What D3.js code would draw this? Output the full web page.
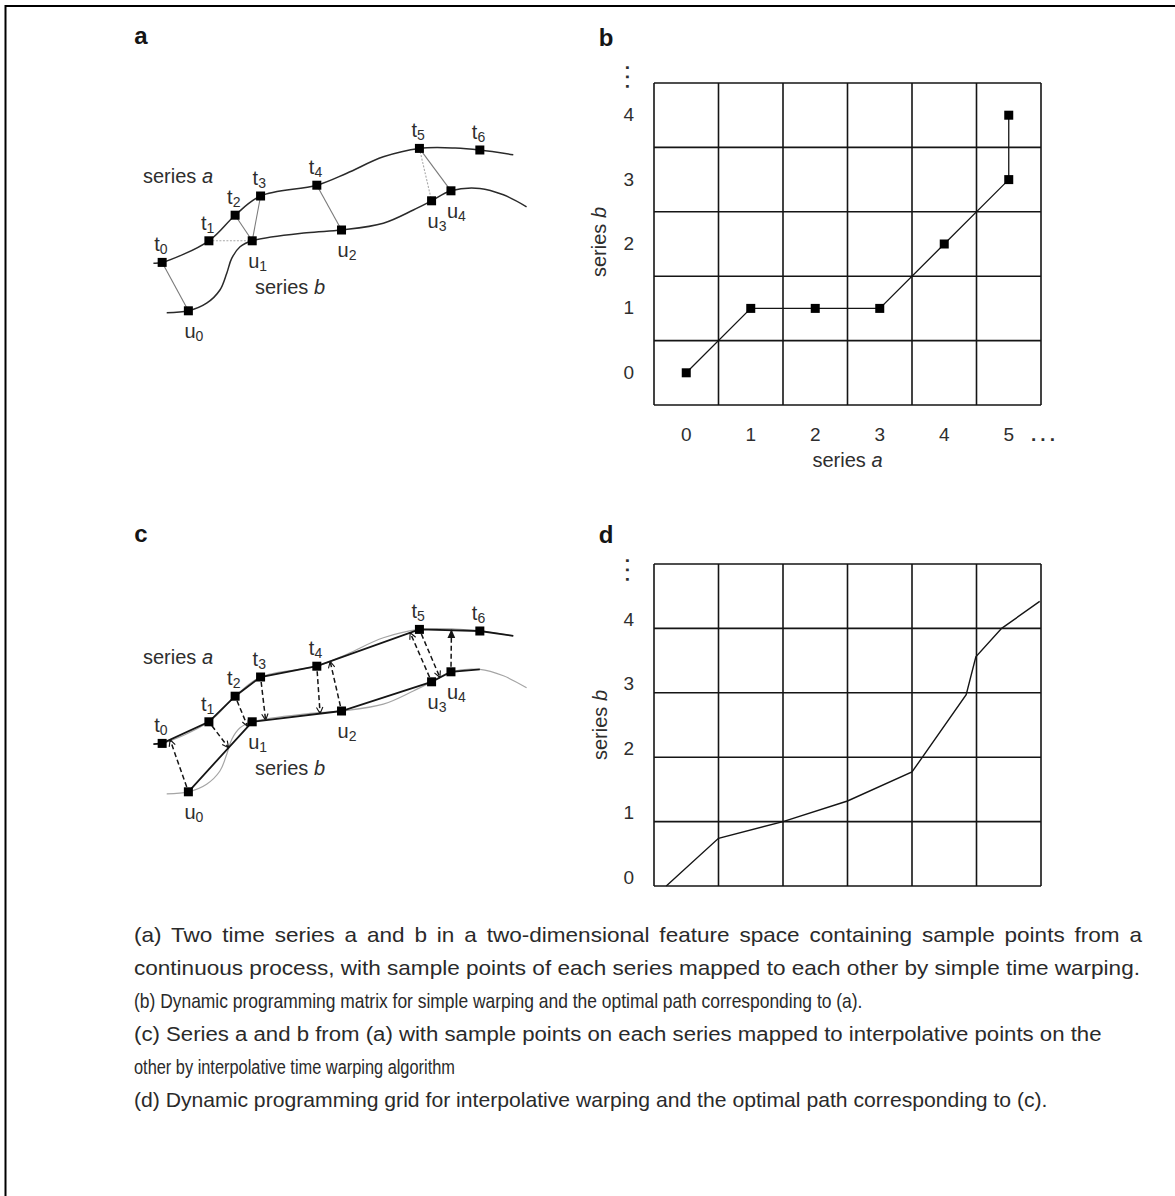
<!DOCTYPE html>
<html>
<head>
<meta charset="utf-8">
<script src="https://cdn.jsdelivr.net/npm/d3@7"></script>
<style>
  html, body { margin: 0; padding: 0; background: #fff; }
  svg { display: block; font-family: "Liberation Sans", Arial, Helvetica, sans-serif; }
</style>
</head>
<body>
<svg id="fig" width="1175" height="1196"></svg>
<script>
// ---------- data ----------
// sample points of series a (t0..t6) in a 2-D feature space (f1, f2)
const aNames = ["0", "1", "2", "3", "4", "5", "6"];
const aF1 = [0.32, 1.55, 2.24, 2.91, 4.39, 7.09, 8.68];
const aF2 = [1.69, 2.23, 2.87, 3.35, 3.62, 4.54, 4.50];
// sample points of series b (u0..u4)
const bNames = ["0", "1", "2", "3", "4"];
const bF1 = [1.01, 2.69, 5.04, 7.41, 7.92];
const bF2 = [0.48, 2.23, 2.50, 3.23, 3.48];
// the continuous processes the samples were taken from
const curveAF1 = [0.09, 0.32, 1.55, 2.24, 2.91, 4.39, 5.18, 6.14, 7.09, 8.03, 8.68, 9.56];
const curveAF2 = [1.67, 1.69, 2.23, 2.87, 3.35, 3.62, 3.92, 4.33, 4.54, 4.55, 4.50, 4.38];
const curveBF1 = [0.44, 1.01, 1.49, 1.84, 2.02, 2.15, 2.37, 2.69, 4.12, 5.04, 6.14, 6.93, 7.41, 7.92, 8.68, 9.30, 9.91];
const curveBF2 = [0.43, 0.48, 0.67, 1.00, 1.42, 1.79, 2.08, 2.23, 2.43, 2.50, 2.67, 3.00, 3.23, 3.48, 3.54, 3.38, 3.08];

// optimal simple-warping path: pairs (index in a, index in b)
const warpA = [0, 1, 2, 3, 4, 5, 5];
const warpB = [0, 1, 1, 1, 2, 3, 4];

// interpolative warping: a sample on one series mapped to a point on a segment of the other
const itwFrom = ["b", "a", "a", "a", "a", "b", "b", "a", "b"];
const itwIndex = [0, 1, 2, 3, 4, 2, 3, 5, 4];
const itwSegment = [0, 0, 0, 1, 1, 4, 4, 3, 5];
const itwParam = [0.17, 0.63, 0.93, 0.15, 0.76, 0.13, 0.91, 0.43, 0.53];

// optimal path through the interpolative grid (continuous indices)
const dPathA = [0.19, 1.00, 2.00, 3.00, 4.00, 4.84, 4.99, 5.39, 5.98];
const dPathB = [0.00, 0.74, 1.00, 1.32, 1.77, 2.97, 3.56, 4.00, 4.42];

// grid tick labels
const gridCols = [0, 1, 2, 3, 4, 5];
const gridRows = [0, 1, 2, 3, 4];
const panelLetters = ["a", "b", "c", "d"];

const captionLines = [
  "(a) Two time series a and b in a two-dimensional feature space containing sample points from a",
  "continuous process, with sample points of each series mapped to each other by simple time warping.",
  "(b) Dynamic programming matrix for simple warping and the optimal path corresponding to (a).",
  "(c) Series a and b from (a) with sample points on each series mapped to interpolative points on the",
  "other by interpolative time warping algorithm",
  "(d) Dynamic programming grid for interpolative warping and the optimal path corresponding to (c)."
];

// ---------- drawing ----------
const svg = d3.select("#fig");
const ink = "#151515";
const textInk = "#2e2e2e";

// frame
svg.append("rect")
  .attr("x", 5.5).attr("y", 6).attr("width", 1200).attr("height", 1220)
  .attr("fill", "none").attr("stroke", "#000").attr("stroke-width", 2);

// arrowheads
const defs = svg.append("defs");
defs.append("marker")
  .attr("id", "chev").attr("viewBox", "0 0 10 10")
  .attr("refX", 9).attr("refY", 5)
  .attr("markerWidth", 8).attr("markerHeight", 8)
  .attr("markerUnits", "userSpaceOnUse").attr("orient", "auto")
  .append("path").attr("d", "M1,1 L9,5 L1,9")
  .attr("fill", "none").attr("stroke", ink).attr("stroke-width", 1.4)
  .attr("stroke-dasharray", "none");
defs.append("marker")
  .attr("id", "tri").attr("viewBox", "0 0 10 10")
  .attr("refX", 9).attr("refY", 5)
  .attr("markerWidth", 9).attr("markerHeight", 9)
  .attr("markerUnits", "userSpaceOnUse").attr("orient", "auto")
  .append("path").attr("d", "M0,0.5 L10,5 L0,9.5 Z").attr("fill", ink);

// panel letters
const letterPos = [[141, 44], [606, 46], [141, 542], [606, 543]];
panelLetters.forEach((l, i) => {
  svg.append("text")
    .attr("x", letterPos[i][0]).attr("y", letterPos[i][1])
    .attr("text-anchor", "middle")
    .attr("font-size", 24).attr("font-weight", "bold").attr("fill", ink)
    .text(l);
});

function subLabel(g, x, y, base, sub) {
  const t = g.append("text").attr("x", x).attr("y", y)
    .attr("font-size", 20).attr("fill", textInk);
  t.append("tspan").text(base);
  t.append("tspan").attr("font-size", 14).attr("dy", 3).text(sub);
}

function seriesLabel(g, x, y, name) {
  const parts = name.split(" ");
  const t = g.append("text").attr("x", x).attr("y", y)
    .attr("font-size", 20).attr("fill", textInk);
  t.append("tspan").text(parts[0] + " ");
  t.append("tspan").attr("font-style", "italic").text(parts[1]);
}

// feature-space panels (a) and (c)
function featurePanel(yRange, interpolative) {
  const fx = d3.scaleLinear().domain([0, 10]).range([150, 530]);
  const fy = d3.scaleLinear().domain([0, 5]).range(yRange);
  const g = svg.append("g");
  const A = aF1.map((v, i) => [fx(v), fy(aF2[i])]);
  const B = bF1.map((v, i) => [fx(v), fy(bF2[i])]);
  const cA = curveAF1.map((v, i) => [fx(v), fy(curveAF2[i])]);
  const cB = curveBF1.map((v, i) => [fx(v), fy(curveBF2[i])]);
  const smooth = d3.line().curve(d3.curveCatmullRom.alpha(0.5));
  const straight = d3.line();

  if (!interpolative) {
    const faint = [1, 5];
    warpA.forEach((ai, k) => {
      const bi = warpB[k];
      g.append("line")
        .attr("x1", A[ai][0]).attr("y1", A[ai][1])
        .attr("x2", B[bi][0]).attr("y2", B[bi][1])
        .attr("stroke", faint.includes(k) ? "#a8a8a8" : "#7a7a7a")
        .attr("stroke-width", 1.1)
        .attr("stroke-dasharray", faint.includes(k) ? "2,1.5" : null);
    });
    [cA, cB].forEach(c => g.append("path").attr("d", smooth(c))
      .attr("fill", "none").attr("stroke", "#2a2a2a").attr("stroke-width", 1.5));
  } else {
    [cA, cB].forEach(c => g.append("path").attr("d", smooth(c))
      .attr("fill", "none").attr("stroke", "#a5a5a5").attr("stroke-width", 1.2));
    g.append("path").attr("d", straight([cA[0], ...A, cA[cA.length - 1]]))
      .attr("fill", "none").attr("stroke", ink).attr("stroke-width", 1.8);
    g.append("path").attr("d", straight([...B, cB[14]]))
      .attr("fill", "none").attr("stroke", ink).attr("stroke-width", 1.8);
    itwFrom.forEach((s, k) => {
      const src = s === "a" ? A : B;
      const dst = s === "a" ? B : A;
      const p = src[itwIndex[k]];
      const q0 = dst[itwSegment[k]], q1 = dst[itwSegment[k] + 1];
      const t = itwParam[k];
      const q = [q0[0] + (q1[0] - q0[0]) * t, q0[1] + (q1[1] - q0[1]) * t];
      const dx = q[0] - p[0], dy = q[1] - p[1];
      const len = Math.hypot(dx, dy);
      const start = [p[0] + dx / len * 5, p[1] + dy / len * 5];
      g.append("line")
        .attr("x1", start[0]).attr("y1", start[1])
        .attr("x2", q[0]).attr("y2", q[1])
        .attr("stroke", ink).attr("stroke-width", 1.5)
        .attr("stroke-dasharray", "5,3")
        .attr("marker-end", k === itwFrom.length - 1 ? "url(#tri)" : "url(#chev)");
    });
  }

  // sample squares
  [...A, ...B].forEach(p => g.append("rect")
    .attr("x", p[0] - 4.5).attr("y", p[1] - 4.5)
    .attr("width", 9).attr("height", 9).attr("fill", "#000"));

  A.forEach((p, i) => subLabel(g, p[0] - 8, p[1] - 11, "t", aNames[i]));
  B.forEach((p, i) => subLabel(g, p[0] - 4, p[1] + 27, "u", bNames[i]));

  seriesLabel(g, 143, yRange[1] + 53, "series a");
  seriesLabel(g, 255, yRange[1] + 164, "series b");
}

featurePanel([330, 130], false);
featurePanel([811, 611], true);

// ---------- panel (b): dynamic programming matrix ----------
{
  const gx = d3.scaleBand().domain(gridCols).range([654, 1041]);
  const gy = d3.scaleBand().domain(gridRows).range([405, 83]);
  const g = svg.append("g");
  const xs = gridCols.map(c => gx(c)).concat([1041]);
  const ys = gridRows.map(r => gy(r)).concat([405]);
  xs.forEach(x => g.append("line").attr("x1", x).attr("x2", x).attr("y1", 83).attr("y2", 405)
    .attr("stroke", ink).attr("stroke-width", 1.6));
  ys.forEach(y => g.append("line").attr("y1", y).attr("y2", y).attr("x1", 654).attr("x2", 1041)
    .attr("stroke", ink).attr("stroke-width", 1.6));
  const cx = c => gx(c) + gx.bandwidth() / 2;
  const cy = r => gy(r) + gy.bandwidth() / 2;
  const pts = warpA.map((a, k) => [cx(a), cy(warpB[k])]);
  g.append("path").attr("d", d3.line()(pts))
    .attr("fill", "none").attr("stroke", ink).attr("stroke-width", 1.3);
  pts.forEach(p => g.append("rect").attr("x", p[0] - 4.5).attr("y", p[1] - 4.5)
    .attr("width", 9).attr("height", 9).attr("fill", "#000"));

  const xAxis = g.append("g").attr("transform", "translate(0,405)")
    .call(d3.axisBottom(gx).tickSize(0).tickPadding(23));
  xAxis.select(".domain").remove();
  xAxis.selectAll("text").attr("font-size", 19).attr("fill", textInk)
    .attr("font-family", '"Liberation Sans", Arial, sans-serif');
  const yAxis = g.append("g").attr("transform", "translate(654,0)")
    .call(d3.axisLeft(gy).tickSize(0).tickPadding(20));
  yAxis.select(".domain").remove();
  yAxis.selectAll("text").attr("font-size", 19).attr("fill", textInk)
    .attr("font-family", '"Liberation Sans", Arial, sans-serif');

  g.append("text").attr("x", 1045).attr("y", 441).attr("text-anchor", "middle")
    .attr("font-size", 19).attr("font-weight", "bold").attr("letter-spacing", 4)
    .attr("fill", textInk).text("...");
  g.append("text").attr("transform", "translate(626,79) rotate(90)")
    .attr("text-anchor", "middle")
    .attr("font-size", 19).attr("font-weight", "bold").attr("letter-spacing", 4)
    .attr("fill", textInk).text("...");

  const xl = g.append("text").attr("x", 847.5).attr("y", 467).attr("text-anchor", "middle")
    .attr("font-size", 20).attr("fill", textInk);
  xl.append("tspan").text("series ");
  xl.append("tspan").attr("font-style", "italic").text("a");
  const yl = g.append("text").attr("transform", "translate(606,242) rotate(-90)")
    .attr("text-anchor", "middle").attr("font-size", 20).attr("fill", textInk);
  yl.append("tspan").text("series ");
  yl.append("tspan").attr("font-style", "italic").text("b");
}

// ---------- panel (d): interpolative grid ----------
{
  const dx = d3.scaleLinear().domain([0, 6]).range([654, 1041]);
  const dy = d3.scaleLinear().domain([0, 5]).range([886, 564]);
  const g = svg.append("g");
  d3.range(0, 7).forEach(c => g.append("line").attr("x1", dx(c)).attr("x2", dx(c))
    .attr("y1", dy(0)).attr("y2", dy(5)).attr("stroke", ink).attr("stroke-width", 1.6));
  d3.range(0, 6).forEach(r => g.append("line").attr("y1", dy(r)).attr("y2", dy(r))
    .attr("x1", dx(0)).attr("x2", dx(6)).attr("stroke", ink).attr("stroke-width", 1.6));
  g.append("path")
    .attr("d", d3.line().x((v, i) => dx(v)).y((v, i) => dy(dPathB[i]))(dPathA))
    .attr("fill", "none").attr("stroke", ink).attr("stroke-width", 1.4);

  const yAxis = g.append("g").attr("transform", "translate(654,0)")
    .call(d3.axisLeft(dy).tickValues(gridRows).tickFormat(d3.format("d")).tickSize(0).tickPadding(20));
  yAxis.select(".domain").remove();
  yAxis.selectAll("text").attr("font-size", 19).attr("fill", textInk).attr("dy", "-0.15em")
    .attr("font-family", '"Liberation Sans", Arial, sans-serif');

  g.append("text").attr("transform", "translate(626,572) rotate(90)")
    .attr("text-anchor", "middle")
    .attr("font-size", 19).attr("font-weight", "bold").attr("letter-spacing", 4)
    .attr("fill", textInk).text("...");
  const yl = g.append("text").attr("transform", "translate(607,725) rotate(-90)")
    .attr("text-anchor", "middle").attr("font-size", 20).attr("fill", textInk);
  yl.append("tspan").text("series ");
  yl.append("tspan").attr("font-style", "italic").text("b");
}

// ---------- caption ----------
{
  // each line is fitted horizontally to where it ends; the first line is justified
  const capX = 134, capEnds = [1143, 1141, 863, 1102, 455, 1048];
  const cap = svg.append("g")
    .attr("font-family", '"Liberation Sans Narrow", "Arial Narrow", "Liberation Sans", Arial, sans-serif')
    .attr("font-size", 20).attr("fill", "#2a2a2a");
  captionLines.forEach((t, i) => {
    const row = cap.append("g");
    const txt = row.append("text").attr("x", 0).attr("y", 942 + i * 33).text(t);
    const nat = txt.node().getComputedTextLength();
    let k = (capEnds[i] - capX) / nat;
    if (i === 0) {
      // same glyph width as the line below, with the slack spread over the word gaps
      const next = cap.append("text").text(captionLines[1]);
      const kNext = (capEnds[1] - capX) / next.node().getComputedTextLength();
      next.remove();
      const spaces = (t.match(/ /g) || []).length;
      txt.attr("word-spacing", ((capEnds[0] - capX) / kNext - nat) / spaces);
      k = kNext;
    }
    row.attr("transform", `translate(${capX},0) scale(${k},1)`);
  });
}
</script>
</body>
</html>
